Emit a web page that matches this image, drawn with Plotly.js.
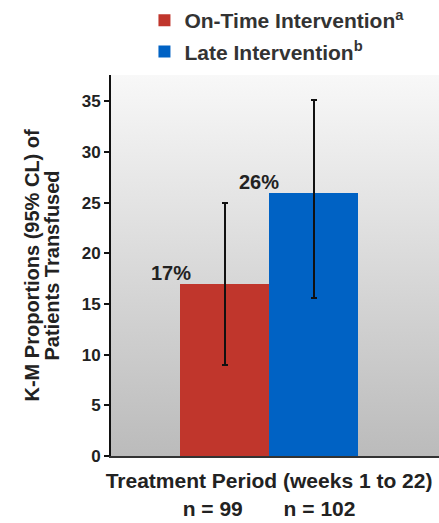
<!DOCTYPE html>
<html>
<head>
<meta charset="utf-8">
<script src="https://cdn.plot.ly/plotly-3.0.1.min.js"></script>
<style>html,body{margin:0;padding:0;background:#fff;}#chart{width:439px;height:523px;}</style>
</head>
<body>
<div id="chart"></div>
<script>
// ---- data ----
var seriesNames = ['On-Time Intervention<sup>a</sup>', 'Late Intervention<sup>b</sup>'];
var category = 'Treatment Period (weeks 1 to 22)';
var nCounts = [99, 102];
var proportions = [17, 26];
var ciUpper = [25.0, 35.1];
var ciLower = [9.0, 15.6];
var yTicks = [0, 5, 10, 15, 20, 25, 30, 35];
var yTitleLines = ['K-M Proportions (95% CL) of', 'Patients Transfused'];

var colors = ['#c0362c', '#0062c4'];
var FONT = '"Liberation Sans", Arial, sans-serif';
var nbsp = '\u00a0';
var tickLabel = '<b>' + category + '</b><br><b>n = ' + nCounts[0] + nbsp.repeat(7) + 'n = ' + nCounts[1] + '</b>';

var traces = seriesNames.map(function (name, i) {
  return {
    type: 'bar',
    name: '<b>' + name + '</b>',
    x: [tickLabel],
    y: [proportions[i]],
    marker: { color: colors[i], line: { width: 0 } },
    legendgroup: 'g' + i,
    error_y: {
      type: 'data', symmetric: false,
      array: [ciUpper[i] - proportions[i]],
      arrayminus: [proportions[i] - ciLower[i]],
      color: '#111', thickness: 2, width: 3
    },
    hoverinfo: 'skip'
  };
});

var labelShift = [-98, -10];
var annotations = proportions.map(function (v, i) {
  return {
    x: tickLabel, y: v, xref: 'x', yref: 'y',
    text: '<b>' + v + '%</b>', showarrow: false,
    xanchor: 'center', yanchor: 'bottom', xshift: labelShift[i], yshift: -2,
    font: { family: FONT, size: 20, color: '#222' }
  };
});
var titleShift = [-80, -60];
yTitleLines.forEach(function (t, i) {
  annotations.push({
    x: 0, y: 0.5, xref: 'paper', yref: 'paper', text: '<b>' + t + '</b>',
    textangle: -90, showarrow: false, xanchor: 'center', yanchor: 'middle',
    xshift: titleShift[i], font: { family: FONT, size: 20, color: '#222' }
  });
});

var bgSvg = "<svg xmlns='http://www.w3.org/2000/svg' width='10' height='100' viewBox='0 0 10 100' preserveAspectRatio='none'>" +
  "<defs><linearGradient id='g' x1='0' y1='0' x2='0' y2='1'>" +
  "<stop offset='0' stop-color='#f8f8f8'/><stop offset='1' stop-color='#bbbbbb'/></linearGradient></defs>" +
  "<rect x='0' y='0' width='10' height='100' fill='url(#g)'/></svg>";

var layout = {
  width: 439, height: 523,
  margin: { l: 111, r: 0, t: 75, b: 67 },
  paper_bgcolor: '#ffffff',
  plot_bgcolor: 'rgba(0,0,0,0)',
  barmode: 'group', bargap: 0, bargroupgap: 0,
  font: { family: FONT, color: '#222' },
  showlegend: true,
  legend: {
    x: 0.102, y: 1, yref: 'container', xanchor: 'left', yanchor: 'top',
    font: { family: FONT, size: 21, color: '#333' },
    traceorder: 'grouped', tracegroupgap: 1, bgcolor: 'rgba(0,0,0,0)'
  },
  xaxis: {
    type: 'category', range: [-0.888, 0.955],
    showline: true, linecolor: '#333', linewidth: 2,
    ticks: '', ticklabelstandoff: 5,
    tickfont: { family: FONT, size: 21, color: '#222' },
    showgrid: false, zeroline: false, fixedrange: true
  },
  yaxis: {
    range: [0, 37.6], tickvals: yTicks, ticktext: yTicks.map(function (t) { return '<b>' + t + '</b>'; }),
    showline: true, linecolor: '#111', linewidth: 2,
    ticks: 'outside', ticklen: 5, tickwidth: 2, tickcolor: '#111',
    tickfont: { family: FONT, size: 17, color: '#222' },
    showgrid: false, zeroline: false, fixedrange: true
  },
  annotations: annotations,
  images: [{
    source: 'data:image/svg+xml;charset=utf-8,' + encodeURIComponent(bgSvg),
    xref: 'paper', yref: 'paper', x: 0, y: 1, sizex: 1, sizey: 1,
    sizing: 'stretch', layer: 'below', xanchor: 'left', yanchor: 'top'
  }]
};

Plotly.newPlot('chart', traces, layout, { displayModeBar: false, staticPlot: true });
</script>
</body>
</html>
